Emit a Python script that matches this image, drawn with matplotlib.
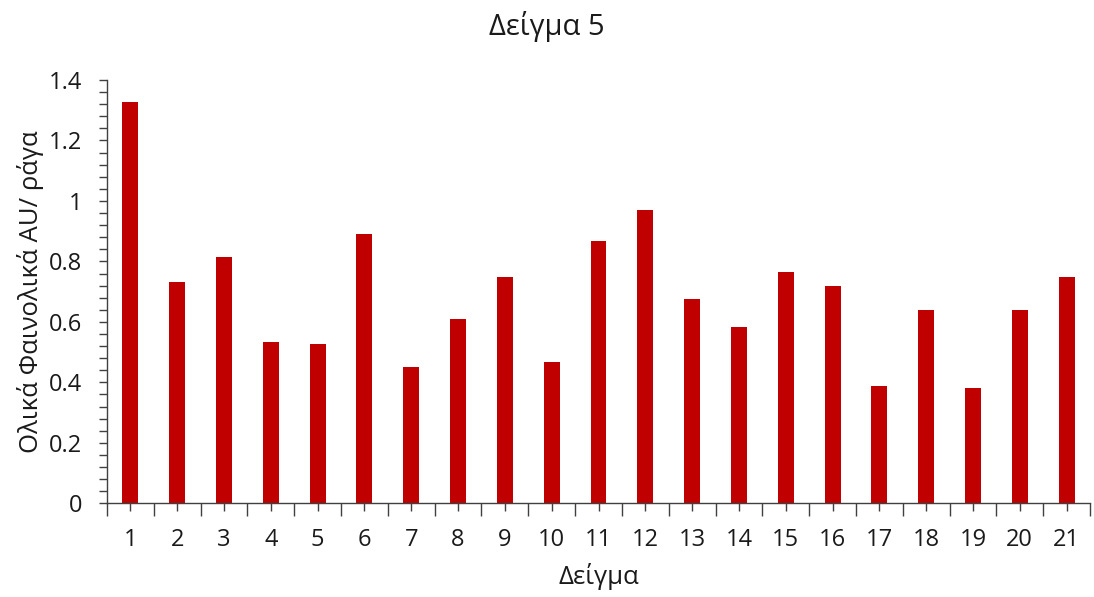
import numpy as np
import matplotlib.pyplot as plt
from matplotlib.ticker import MultipleLocator, FixedLocator

plt.rcParams['font.family'] = ['Open Sans', 'DejaVu Sans']

samples = [str(i) for i in range(1, 22)]
phenolics = [1.328, 0.731, 0.815, 0.532, 0.527, 0.891, 0.451, 0.608, 0.748, 0.468,
             0.866, 0.969, 0.676, 0.583, 0.765, 0.719, 0.388, 0.638, 0.380, 0.638, 0.747]

x = np.arange(1, len(samples) + 1)

fig = plt.figure(figsize=(10.94, 5.97), dpi=100)
ax = fig.add_axes([107 / 1094, (597 - 503.3) / 597, (1090 - 107) / 1094, (503.3 - 80) / 597])

ax.bar(x, phenolics, width=0.34, color='#C00000')

ax.set_xlim(0.5, len(samples) + 0.5)
ax.set_ylim(0, 1.4)

ax.spines['top'].set_visible(False)
ax.spines['right'].set_visible(False)
for s in ('left', 'bottom'):
    ax.spines[s].set_color('#404040')
    ax.spines[s].set_linewidth(1.0)

ax.set_xticks(x)
ax.set_xticklabels(samples)
ax.xaxis.set_minor_locator(FixedLocator(np.arange(0.5, len(samples) + 1, 1)))
ax.tick_params(axis='x', which='major', length=6, width=1, color='#404040', pad=12, labelsize=17)
ax.tick_params(axis='x', which='minor', length=9, width=1, color='#404040')

ax.set_yticks(np.arange(0, 1.41, 0.2))
ax.set_yticklabels(['0', '0.2', '0.4', '0.6', '0.8', '1', '1.2', '1.4'])
ax.yaxis.set_minor_locator(MultipleLocator(0.04))
ax.tick_params(axis='y', which='both', length=6, width=1, color='#404040', labelsize=17)
ax.tick_params(axis='y', which='major', pad=12)

for lbl in ax.get_xticklabels() + ax.get_yticklabels():
    lbl.set_color('#1a1a1a')

fig.text(0.5, 1 - 27 / 597, 'Δείγμα 5', fontsize=21, ha='center', va='center', color='#1a1a1a')
ax.set_xlabel('Δείγμα', fontsize=18.5, labelpad=8, color='#1a1a1a')
ax.set_ylabel('Ολικά Φαινολικά AU/ ράγα', fontsize=18.5, labelpad=3, color='#1a1a1a')

fig.savefig('out.png', dpi=100)
